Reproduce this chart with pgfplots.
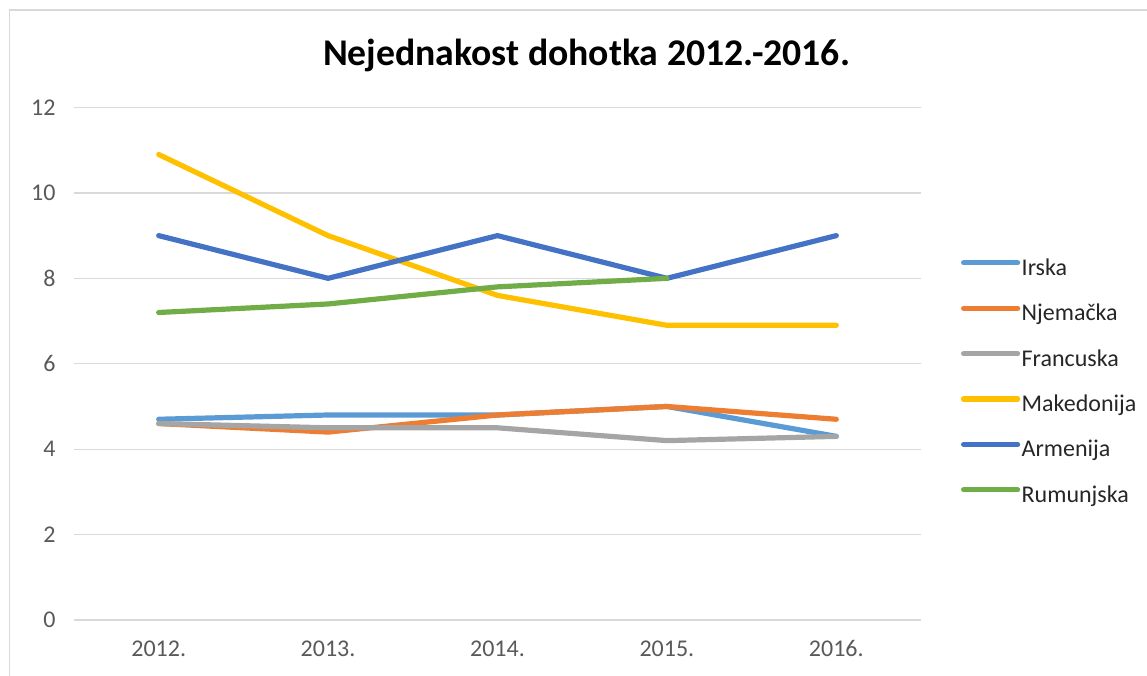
\documentclass[border=0pt]{standalone}
\usepackage{fontspec}
\setmainfont{Carlito}
\usepackage{pgfplots}
\pgfplotsset{compat=1.18}
\definecolor{cIrska}{HTML}{5B9BD5}
\definecolor{cNjem}{HTML}{ED7D31}
\definecolor{cFran}{HTML}{A5A5A5}
\definecolor{cMake}{HTML}{FFC000}
\definecolor{cArme}{HTML}{4472C4}
\definecolor{cRumu}{HTML}{70AD47}
\definecolor{gridgray}{HTML}{D9D9D9}
\definecolor{tickgray}{HTML}{595959}
\definecolor{legtext}{HTML}{262626}
\begin{document}
\begin{tikzpicture}
\useasboundingbox (0,0) rectangle (1147pt,675pt);
\draw[gridgray, line width=1.5pt] (9.5pt,-10pt) -- (9.5pt,665pt) -- (1160pt,665pt);
\node[font=\bfseries\fontsize{37.7}{45}\selectfont, anchor=base] at (586.5pt,609pt) {Nejednakost dohotka 2012.-2016.};
\begin{axis}[
  at={(74pt,55pt)}, anchor=south west,
  scale only axis, width=847pt, height=512.5pt,
  xmin=-0.5, xmax=4.5, ymin=0, ymax=12,
  xtick={0,1,2,3,4},
  xticklabels={2012.,2013.,2014.,2015.,2016.},
  ytick={0,2,4,6,8,10,12},
  ymajorgrids, major grid style={gridgray, line width=1.3pt},
  axis line style={draw=none},
  major tick length=0pt,
  /pgf/number format/assume math mode=true,
  tick label style={font=\fontsize{24}{29}\selectfont, text=tickgray},
  yticklabel style={xshift=-15pt},
  xticklabel style={yshift=-17pt},
  every axis plot/.append style={line width=5.2pt, line cap=round, line join=round, no markers},
  legend cell align=left,
  legend image code/.code={\draw[#1, line width=5.2pt, line cap=round] (0pt,7pt) -- (54pt,7pt);},
  legend style={draw=none, fill=none, at={(axis description cs:1.047,0.707)}, anchor=north west,
    font=\fontsize{24}{29}\selectfont, text=legtext, row sep=21.4pt,
    inner sep=0pt,
    nodes={inner sep=1.5pt, text height=16pt, text depth=5pt}},
]
\addplot[cIrska] coordinates {(0,4.7) (1,4.8) (2,4.8) (3,5.0) (4,4.3)};
\addlegendentry{Irska}
\addplot[cNjem] coordinates {(0,4.6) (1,4.4) (2,4.8) (3,5.0) (4,4.7)};
\addlegendentry{Njemačka}
\addplot[cFran] coordinates {(0,4.6) (1,4.5) (2,4.5) (3,4.2) (4,4.3)};
\addlegendentry{Francuska}
\addplot[cMake] coordinates {(0,10.9) (1,9.0) (2,7.6) (3,6.9) (4,6.9)};
\addlegendentry{Makedonija}
\addplot[cArme] coordinates {(0,9) (1,8) (2,9) (3,8) (4,9)};
\addlegendentry{Armenija}
\addplot[cRumu] coordinates {(0,7.2) (1,7.4) (2,7.8) (3,8.0)};
\addlegendentry{Rumunjska}
\end{axis}
\end{tikzpicture}
\end{document}
